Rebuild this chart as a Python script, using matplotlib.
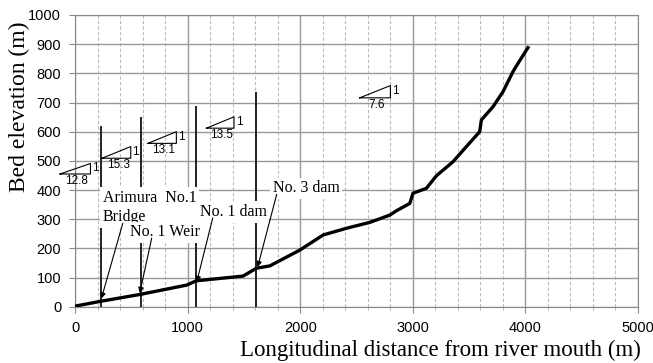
import numpy as np
import matplotlib.pyplot as plt
from matplotlib.ticker import MultipleLocator

# bed profile (distance m, elevation m)
dist = [0, 233, 575, 990, 1078, 1492, 1611, 1730, 1996, 2204, 2411, 2617,
        2795, 2855, 2958, 2973, 3002, 3121, 3210, 3357, 3476, 3594, 3609,
        3713, 3801, 3890, 3934, 4023]
elev = [2, 19, 42, 74, 89, 105, 132, 140, 194, 246, 269, 289,
        314, 329, 351, 354, 389, 406, 449, 497, 549, 600, 640,
        686, 737, 806, 834, 888]

# structures: position, top of marker line
struct_x = [228, 590, 1078, 1611]
struct_top = [616, 646, 685, 732]

# slope triangles: base left x, base right x, base y, top y, ratio label
tri_x0 = [-133, 240, 648, 1167, 2528]
tri_x1 = [137, 495, 900, 1412, 2801]
tri_y0 = [455, 509, 560, 612, 716]
tri_y1 = [491, 549, 600, 651, 758]
tri_lab = ['12.8', '15.3', '13.1', '13.5', '7.6']

serif = 'Liberation Serif'
sans = 'Liberation Sans'

fig = plt.figure(figsize=(6.53, 3.63), dpi=100)
ax = fig.add_axes([0.1149, 0.155, 0.8621, 0.8037])

ax.set_xlim(0, 5000)
ax.set_ylim(0, 1000)
ax.xaxis.set_major_locator(MultipleLocator(1000))
ax.xaxis.set_minor_locator(MultipleLocator(200))
ax.yaxis.set_major_locator(MultipleLocator(100))

ax.grid(which='major', axis='both', color='#999999', lw=1.0, zorder=0)
ax.grid(which='minor', axis='x', color='#bbbbbb', lw=0.8, ls=(0, (3, 2)), zorder=0)
for s in ax.spines.values():
    s.set_color('#888888')
ax.tick_params(which='major', length=4, color='#888888', labelsize=10.5, pad=6)
ax.tick_params(which='minor', length=2, color='#aaaaaa')
for lab in ax.get_xticklabels() + ax.get_yticklabels():
    lab.set_family(sans)

# structure lines
for x, top in zip(struct_x, struct_top):
    ax.plot([x, x], [0, top], color='#222222', lw=1.4, zorder=2)

# profile
ax.plot(dist, elev, color='black', lw=2.4, zorder=4)

# slope triangles
for x0, x1, y0, y1, lab in zip(tri_x0, tri_x1, tri_y0, tri_y1, tri_lab):
    ax.plot([x0, x1, x1, x0], [y0, y0, y1, y0], color='black', lw=0.8,
            clip_on=False, zorder=3)
    ax.text(x1 + 15, (y0 + y1) / 2 + 2, '1', fontsize=8.5, family=sans,
            ha='left', va='center', zorder=3)
    ax.text((x0 + x1) / 2 + 15, y0 - 3, lab, fontsize=8.5, family=sans,
            ha='center', va='top', zorder=3)

box = dict(facecolor='white', edgecolor='none', pad=2)
arrow = dict(arrowstyle='-|>', color='black', lw=0.8, mutation_scale=8,
             shrinkA=0, shrinkB=0)

ax.text(245, 340, 'Arimura  No.1\nBridge', fontsize=11.5, family=serif,
        ha='left', va='center', linespacing=1.3, bbox=box, zorder=5)
ax.annotate('', xy=(234, 28), xytext=(424, 286), arrowprops=arrow, zorder=6)

ax.text(486, 255, 'No. 1 Weir', fontsize=11.5, family=serif,
        ha='left', va='center', bbox=box, zorder=5)
ax.annotate('', xy=(575, 47), xytext=(681, 235), arrowprops=arrow, zorder=6)

ax.text(1107, 325, 'No. 1 dam', fontsize=11.5, family=serif,
        ha='left', va='center', bbox=box, zorder=5)
ax.annotate('', xy=(1081, 85), xytext=(1223, 304), arrowprops=arrow, zorder=6)

ax.text(1757, 406, 'No. 3 dam', fontsize=11.5, family=serif,
        ha='left', va='center', bbox=box, zorder=5)
ax.annotate('', xy=(1622, 136), xytext=(1791, 385), arrowprops=arrow, zorder=6)

fig.text(0.03, 0.706, 'Bed elevation (m)', rotation=90, fontsize=17,
         family=serif, ha='center', va='center')
fig.text(0.675, 0.036, 'Longitudinal distance from river mouth (m)',
         fontsize=16.5, family=serif, ha='center', va='center')

fig.savefig('out.png', dpi=100)
